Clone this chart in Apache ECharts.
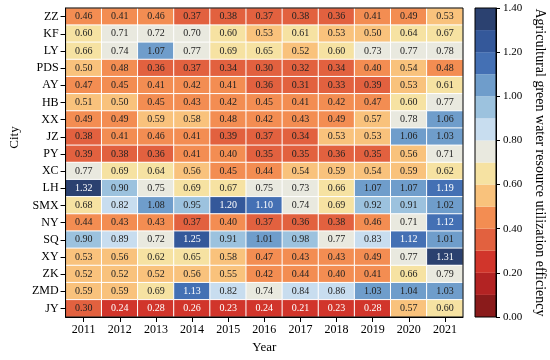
<!DOCTYPE html>
<html><head><meta charset="utf-8">
<script src="https://cdn.jsdelivr.net/npm/echarts@6/dist/echarts.min.js"></script>
<style>html,body{margin:0;padding:0;background:#fff}#c{width:550px;height:360px}</style>
</head><body><div id="c"></div>
<script>
const years = ['2011','2012','2013','2014','2015','2016','2017','2018','2019','2020','2021'];
const cities = ['ZZ','KF','LY','PDS','AY','HB','XX','JZ','PY','XC','LH','SMX','NY','SQ','XY','ZK','ZMD','JY'];
const ZZ  = [0.46,0.41,0.46,0.37,0.38,0.37,0.38,0.36,0.41,0.49,0.53];
const KF  = [0.60,0.71,0.72,0.70,0.60,0.53,0.61,0.53,0.50,0.64,0.67];
const LY  = [0.66,0.74,1.07,0.77,0.69,0.65,0.52,0.60,0.73,0.77,0.78];
const PDS = [0.50,0.48,0.36,0.37,0.34,0.30,0.32,0.34,0.40,0.54,0.48];
const AY  = [0.47,0.45,0.41,0.42,0.41,0.36,0.31,0.33,0.39,0.53,0.61];
const HB  = [0.51,0.50,0.45,0.43,0.42,0.45,0.41,0.42,0.47,0.60,0.77];
const XX  = [0.49,0.49,0.59,0.58,0.48,0.42,0.43,0.49,0.57,0.78,1.06];
const JZ  = [0.38,0.41,0.46,0.41,0.39,0.37,0.34,0.53,0.53,1.06,1.03];
const PY  = [0.39,0.38,0.36,0.41,0.40,0.35,0.35,0.36,0.35,0.56,0.71];
const XC  = [0.77,0.69,0.64,0.56,0.45,0.44,0.54,0.59,0.54,0.59,0.62];
const LH  = [1.32,0.90,0.75,0.69,0.67,0.75,0.73,0.66,1.07,1.07,1.19];
const SMX = [0.68,0.82,1.08,0.95,1.20,1.10,0.74,0.69,0.92,0.91,1.02];
const NY  = [0.44,0.43,0.43,0.37,0.40,0.37,0.36,0.38,0.46,0.71,1.12];
const SQ  = [0.90,0.89,0.72,1.25,0.91,1.01,0.98,0.77,0.83,1.12,1.01];
const XY  = [0.53,0.56,0.62,0.65,0.58,0.47,0.43,0.43,0.49,0.77,1.31];
const ZK  = [0.52,0.52,0.52,0.56,0.55,0.42,0.44,0.40,0.41,0.66,0.79];
const ZMD = [0.59,0.59,0.69,1.13,0.82,0.74,0.84,0.86,1.03,1.04,1.03];
const JY  = [0.30,0.24,0.28,0.26,0.23,0.24,0.21,0.23,0.28,0.57,0.60];
const rows = [ZZ,KF,LY,PDS,AY,HB,XX,JZ,PY,XC,LH,SMX,NY,SQ,XY,ZK,ZMD,JY];

const bandEdges = [0,0.1,0.2,0.3,0.4,0.5,0.6,0.7,0.8,0.9,1.0,1.1,1.2,1.3,1.4];
const bandColors = ['#8a1b1b','#b32323','#d1352b','#e2613f','#f38d52','#f9c27c','#f6e2a2',
                    '#e9e9df','#c8ddef','#9cc2de','#6f9dcb','#4470b4','#34589a','#2b4170'];
const cbarMin = 0, cbarMax = 1.4, cbarStep = 0.2;
const cbarTitle = 'Agricultural green water resource utilization efficiency';

const FONT = 'Liberation Serif';
const data = [];
rows.forEach((r, j) => r.forEach((v, i) => {
  const light = (v < 0.3 || v >= 1.1);
  data.push({value: [i, j, v], label: {color: light ? '#ffffff' : '#222222'}});
}));

const pieces = bandColors.map((c, k) => {
  const p = {gte: bandEdges[k], color: c};
  if (k === bandColors.length - 1) p.lte = bandEdges[k + 1]; else p.lt = bandEdges[k + 1];
  return p;
});

const cbarSeries = bandColors.map((c, k) => ({
  type: 'bar', xAxisIndex: 1, yAxisIndex: 1, stack: 'cb', barWidth: '100%',
  data: [bandEdges[k + 1] - bandEdges[k]], itemStyle: {color: c}, silent: true
}));

const chart = echarts.init(document.getElementById('c'), null, {renderer: 'canvas'});
chart.setOption({
  animation: false,
  textStyle: {fontFamily: FONT},
  grid: [
    {left: 53, top: 8, width: 410, height: 309, show: true, z: 10, backgroundColor: 'transparent', borderColor: '#000', borderWidth: 1},
    {left: 475, top: 8, width: 21, height: 309, show: true, z: 10, backgroundColor: 'transparent', borderColor: '#000', borderWidth: 1}
  ],
  visualMap: {type: 'piecewise', show: false, seriesIndex: 0, dimension: 2, pieces: pieces},
  xAxis: [
    {gridIndex: 0, type: 'category', data: years, z: 10,
     axisLine: {show: true, lineStyle: {color: '#000'}},
     axisTick: {show: true, alignWithLabel: true, length: 5, lineStyle: {color: '#000'}},
     axisLabel: {color: '#000', fontSize: 12, fontFamily: FONT, margin: 7},
     splitLine: {show: false},
     name: 'Year', nameLocation: 'middle', nameGap: 24,
     nameTextStyle: {color: '#000', fontSize: 13, fontFamily: FONT}},
    {gridIndex: 1, type: 'category', data: [''], show: false}
  ],
  yAxis: [
    {gridIndex: 0, type: 'category', data: cities, inverse: true, z: 10,
     axisLine: {show: true, lineStyle: {color: '#000'}},
     axisTick: {show: true, alignWithLabel: true, length: 5, lineStyle: {color: '#000'}},
     axisLabel: {color: '#000', fontSize: 12, fontFamily: FONT, margin: 7},
     splitLine: {show: false},
     name: 'City', nameLocation: 'middle', nameGap: 36, nameRotate: 90,
     nameTextStyle: {color: '#000', fontSize: 13, fontFamily: FONT, padding: [0, 0, 0, 50]}},
    {gridIndex: 1, type: 'value', min: cbarMin, max: cbarMax, interval: cbarStep, position: 'right', z: 10,
     axisLine: {show: true, lineStyle: {color: '#000'}},
     axisTick: {show: true, length: 4, lineStyle: {color: '#000'}},
     axisLabel: {color: '#000', fontSize: 11, fontFamily: FONT, margin: 7, formatter: v => v.toFixed(2)},
     splitLine: {show: false},
     name: cbarTitle, nameLocation: 'middle', nameGap: 37, nameRotate: -90,
     nameTextStyle: {color: '#000', fontSize: 14, fontFamily: FONT}}
  ],
  series: [
    {type: 'heatmap', xAxisIndex: 0, yAxisIndex: 0, data: data,
     itemStyle: {borderColor: '#ffffff', borderWidth: 1},
     label: {show: true, fontSize: 10, fontFamily: FONT, formatter: p => p.value[2].toFixed(2)},
     emphasis: {disabled: true}}
  ].concat(cbarSeries)
});
</script>
</body></html>
